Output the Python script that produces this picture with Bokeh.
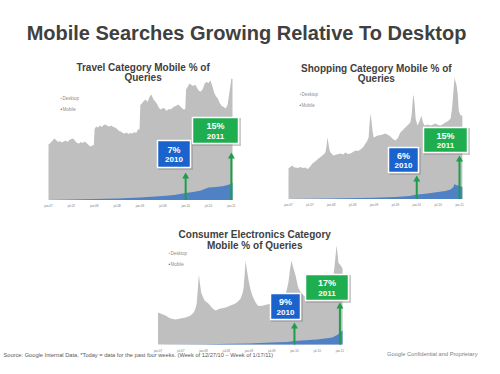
from bokeh.plotting import figure
from bokeh.models import Range1d, Legend, LegendItem
from bokeh.core.properties import value
from bokeh.embed import file_html
from bokeh.resources import INLINE

FONT = value("Liberation Sans")

# ---------------- data ----------------
tick_months = [0, 6, 12, 18, 24, 30, 36, 42, 48]
tick_labels = ["jan-07", "jul-07", "jan-08", "jul-08", "jan-09", "jul-09", "jan-10", "jul-10", "jan-11"]

# month index since Jan 2007 ; relative query volume (index)
travel_desktop_m = [0, 0.5, 1, 1.5, 2, 2.5, 3, 3.5, 4, 4.5, 5, 5.5, 6, 6.5, 7, 7.5, 8, 8.5, 9, 9.5,
                    10, 10.5, 11, 11.5, 11.9, 12.1, 12.5, 13, 13.5, 14, 14.5, 15, 15.5, 16, 16.5, 17,
                    17.5, 18, 18.5, 19, 19.5, 20, 20.5, 21, 21.5, 22, 22.5, 23, 23.5, 23.9, 24.1, 24.5,
                    25, 25.5, 26, 26.5, 27, 27.5, 28, 28.5, 29, 29.5, 30, 30.5, 31, 31.5, 32, 32.5, 33,
                    33.5, 34, 34.5, 35, 35.5, 35.9, 36.1, 36.5, 37, 37.5, 38, 38.5, 39, 39.5, 40, 40.5,
                    41, 41.5, 42, 42.5, 43, 43.5, 44, 44.5, 45, 45.5, 46, 46.5, 47, 47.5, 48, 48.3]
travel_desktop = [55.5, 57, 59, 61.5, 60, 58, 59, 57.5, 58.5, 59.5, 58, 60, 61, 61.5, 59, 57, 56.5, 58, 57, 58.5,
                  57, 55, 53.5, 54.5, 55, 71, 73.5, 72.5, 74.5, 73, 75, 75.5, 74, 73.5, 74.5, 73,
                  72.5, 71, 69, 68.5, 67, 66.5, 67.5, 66, 67, 66.5, 68, 67, 70.5, 71, 95, 96.5,
                  99, 100.5, 98, 103, 105.5, 101, 98.5, 96, 92, 90.5, 92, 91.5, 89, 91, 90.5, 92, 93.5,
                  94, 95.5, 94, 92, 90.5, 91, 110.5, 113, 116.5, 115, 114, 115.5, 112, 109, 108.5, 111,
                  116.5, 118, 117, 119.5, 114, 107, 103.5, 101, 96.5, 94, 93, 91.5, 95, 108, 121.5, 121]
travel_mobile_m = [0, 6, 12, 18, 24, 30, 33, 36, 38, 40, 41, 42, 44, 46, 47, 47.8, 48, 48.3]
travel_mobile = [0, 0.4, 1, 1.6, 2.5, 4, 5, 7, 8, 9.5, 11, 12.5, 13, 14, 15, 16, 17, 17]

shopping_desktop_m = [0, 0.5, 1.1, 1.6, 2, 2.5, 3, 3.4, 4, 4.8, 5.3, 5.6, 6.2, 6.7, 7.5, 8.4, 9, 9.5, 10,
                      10.4, 10.7, 10.9, 11.2, 11.5, 11.8, 12.6, 13.5, 14.6, 15.3, 16, 16.7, 17.4, 18.1,
                      18.8, 19.5, 20.2, 21, 21.6, 22, 22.5, 22.7, 23.0, 23.3, 23.6, 23.9, 24.5, 25, 26,
                      27.2, 28, 28.6, 29.3, 30, 30.7, 31.4, 32.1, 32.8, 33.5, 34.2, 34.6, 34.9, 35.1,
                      35.4, 35.7, 36.2, 36.8, 37.3, 37.7, 38.2, 39, 39.9, 40.6, 41.3, 42, 42.7, 43.4,
                      44.1, 44.8, 45.5, 45.9, 46.3, 46.6, 46.9, 47.2, 47.5, 47.8, 48.3, 48.8]
shopping_desktop = [30.5, 32, 33.5, 31.5, 31.5, 31, 31.5, 32, 31, 31.5, 30, 30.5, 33, 35.5, 37.5, 40.5, 42, 43.5, 45,
                    47, 53.5, 61.5, 56, 49, 46.5, 43.5, 44.5, 45.5, 44.5, 46.5, 45, 45.5, 47,
                    48.5, 48, 49.5, 52, 55.5, 57.5, 61.5, 73, 85.5, 78, 68, 61.5, 62.5, 63.5, 64,
                    65.5, 64, 62.5, 60, 58.5, 61, 66.5, 69, 71.5, 74, 76.5, 85, 100, 104.5,
                    95, 80, 73.5, 78, 83.5, 77, 73.5, 74.5, 73.5, 74.5, 75.5, 74, 73.5, 75,
                    76.5, 78, 80.5, 90, 108, 121.5, 117, 113.5, 105, 88, 83.5, 83.5]
shopping_mobile_m = [0, 12, 24, 30, 34, 36, 38, 40, 42, 44, 45.5, 46.3, 46.6, 47, 47.5, 48, 48.8]
shopping_mobile = [0, 0.4, 1.2, 2, 3, 4.5, 5, 6, 7, 8, 9.5, 12, 15, 14, 13.5, 13, 12]

electronics_desktop_m = [0, 0.7, 1.3, 2, 2.6, 3.3, 4, 4.6, 5.3, 5.9, 6.6, 7.3, 8, 8.6, 9.4, 9.9, 10.2, 10.5,
                         10.8, 11.1, 11.4, 11.8, 12.3, 13.3, 14.4, 15.2, 15.8, 16.5, 17.2, 17.8, 18.5,
                         19.1, 19.8, 20.4, 21.1, 21.8, 22.3, 22.6, 22.9, 23.1, 23.4, 23.9, 24.4, 24.9,
                         25.6, 26.3, 27, 27.8, 28.7, 29.6, 30.5, 31.4, 32.3, 33.1, 33.8, 34.4, 34.8,
                         35.2, 35.6, 36.3, 36.8, 37.1, 37.7, 38.4, 39.3, 40.2, 41, 41.9, 42.8, 43.7,
                         44.6, 45.5, 46.1, 46.6, 47.1, 47.4, 47.6, 48.2, 48.7]
electronics_desktop = [32, 31, 30, 29, 27.5, 26, 25.5, 25, 25.5, 26, 26.5, 27, 28, 29, 32, 36, 41, 55,
                       70, 60, 52, 48, 44, 41, 36, 34, 35, 36, 36.5, 37, 38,
                       39, 40, 41, 43, 46, 51, 57, 72, 84, 76, 64, 55, 49,
                       43, 39, 38.5, 39, 40, 40.5, 41, 43, 45, 47, 52, 62, 74,
                       84, 78, 69, 60, 56, 52, 49, 47, 46.5, 46, 46.5, 46, 47,
                       49, 54, 62, 79, 99, 90, 82, 79, 76]
electronics_mobile_m = [0, 12, 24, 30, 34, 36, 38, 40, 42, 44, 46, 47, 47.5, 48, 48.7]
electronics_mobile = [0, 0.3, 1, 2, 2.5, 3.5, 4, 4.5, 5, 6, 7, 9, 10, 12, 14]

# mobile share call-outs
travel_share = ["7%", "15%"]
shopping_share = ["6%", "15%"]
electronics_share = ["9%", "17%"]
share_years = ["2010", "2011"]
share_months = [36, 48]

# ---------------- styles ----------------
GRAY = "#bfbfbf"
MOBILE = "#4f81c4"
BLUE_BOX = "#1a63cc"
GREEN_BOX = "#1fae4f"
ARROW = "#1e9e4a"
TITLE = "#404040"
W, H = 484, 358

p = figure(width=W, height=H, x_range=Range1d(0, W), y_range=Range1d(H, 0),
           output_backend="svg", toolbar_location=None, min_border=0,
           x_axis_type=None, y_axis_type=None, outline_line_color=None)
p.background_fill_color = "white"
p.border_fill_color = "white"

# main title
p.text(x=[246], y=[32.7], text=["Mobile Searches Growing Relative To Desktop"],
       text_font=FONT, text_font_size="20px", text_font_style="bold", text_color=TITLE,
       text_align="center", text_baseline="alphabetic")


def chart(key, x0, ppm, base, dm, dv, mm, mv, titles, title_x, title_y, leg_xy,
          shares, arrow_tops, boxes):
    xr, yr = key + "x", key + "y"
    p.extra_x_ranges[xr] = Range1d((0 - x0) / ppm, (W - x0) / ppm)
    p.extra_y_ranges[yr] = Range1d(base - H, base - 0)
    kw = dict(x_range_name=xr, y_range_name=yr)
    rd = p.varea(x=dm, y1=[0] * len(dm), y2=dv, fill_color=GRAY, **kw)
    rm = p.varea(x=mm, y1=[0] * len(mm), y2=mv, fill_color=MOBILE, **kw)
    p.text(x=tick_months, y=[0] * len(tick_months), text=tick_labels, y_offset=6,
           text_font=FONT, text_font_size="3px", text_color="#777777",
           text_align="center", text_baseline="middle", **kw)
    # arrows
    p.segment(x0=share_months, y0=[0, 0], x1=share_months, y1=[t - 4 for t in arrow_tops],
              line_color=ARROW, line_width=2, **kw)
    p.scatter(x=share_months, y=[t - 4 for t in arrow_tops], marker="triangle", size=7,
              fill_color=ARROW, line_color=None, **kw)
    # title
    p.text(x=[title_x, title_x], y=title_y, text=titles, text_font=FONT, text_font_size="10px",
           text_font_style="bold", text_color=TITLE, text_align="center", text_baseline="alphabetic")
    # legend
    leg = Legend(items=[LegendItem(label="Desktop", renderers=[rd]),
                        LegendItem(label="Mobile", renderers=[rm])],
                 location=leg_xy, glyph_width=2, glyph_height=2, label_height=5, label_width=10,
                 label_standoff=1, spacing=6, padding=0, margin=0,
                 label_text_font="Liberation Sans", label_text_font_size="4.5px",
                 label_text_color="#8c8c8c",
                 border_line_color=None, background_fill_alpha=0)
    p.add_layout(leg)
    # call-out boxes (page positions)
    for (cx, cy, w, h), color, pct, yr_lbl in zip(boxes, [BLUE_BOX, GREEN_BOX], shares, share_years):
        p.rect(x=[cx + 1.5], y=[cy + 1.5], width=w + 2, height=h + 2, fill_color="#8a8a8a",
               fill_alpha=0.45, line_color=None)
        p.rect(x=[cx], y=[cy], width=w, height=h, fill_color=color, line_color="white",
               line_width=1.5)
        p.text(x=[cx], y=[cy - 4.5], text=[pct], text_font=FONT, text_font_size="9px",
               text_font_style="bold", text_color="white", text_align="center", text_baseline="middle")
        p.text(x=[cx], y=[cy + 5.5], text=[yr_lbl], text_font=FONT, text_font_size="8px",
               text_font_style="bold", text_color="white", text_align="center", text_baseline="middle")


chart("c1", 48, 3.81, 199.5, travel_desktop_m, travel_desktop, travel_mobile_m, travel_mobile,
      ["Travel Category Mobile % of", "Queries"], 142.6, [66.7, 76.9], (59.5, 246.5),
      travel_share, [27.5, 47.5],
      [(173.5, 153.5, 33, 27), (215, 130, 46, 26)])
chart("c2", 288, 3.5625, 198.5, shopping_desktop_m, shopping_desktop, shopping_mobile_m, shopping_mobile,
      ["Shopping Category Mobile % of", "Queries"], 375.8, [67.7, 78.2], (298.5, 250.5),
      shopping_share, [23.5, 43.5],
      [(403, 159.5, 30, 25), (445, 139.5, 44, 25)])
chart("c3", 157.5, 3.79, 344, electronics_desktop_m, electronics_desktop, electronics_mobile_m, electronics_mobile,
      ["Consumer Electronics Category", "Mobile % of Queries"], 254.2, [234.3, 245], (167.5, 91.5),
      electronics_share, [22, 42],
      [(285, 306, 30, 26), (326.5, 287, 43, 26)])

# footers
p.text(x=[477], y=[353], text=["Google Confidential and Proprietary"], text_font=FONT,
       text_font_size="5.7px", text_color="#808080", text_align="right", text_baseline="middle")
p.text(x=[3], y=[354.5], text=["Source: Google Internal Data, *Today = data for the past four weeks. (Week of 12/27/10 \u2013 Week of 1/17/11)"],
       text_font=FONT, text_font_size="5.7px", text_color="#595959", text_align="left", text_baseline="middle")

open("out.html", "w").write(file_html(p, INLINE))
